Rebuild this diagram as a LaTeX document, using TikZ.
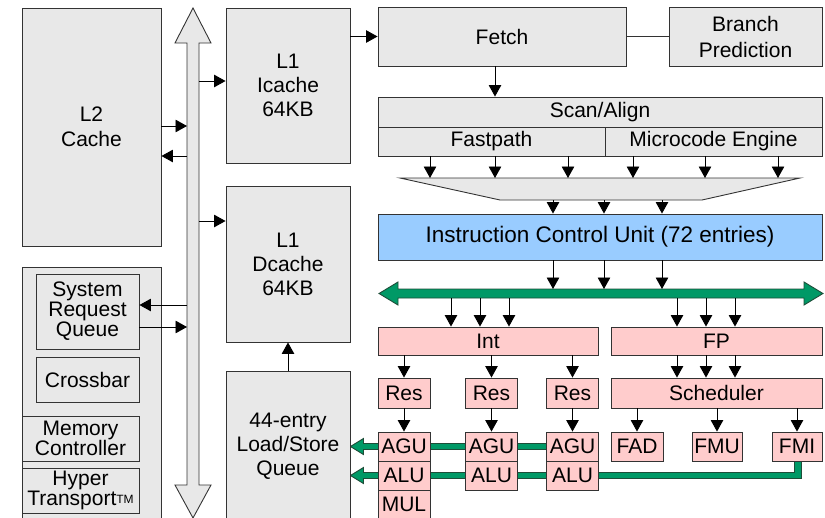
\documentclass[tikz,border=0pt]{standalone}
\usepackage{fontspec}
\setmainfont{Liberation Sans}
\usetikzlibrary{arrows.meta,backgrounds}

\definecolor{boxgray}{HTML}{E8E8E8}
\definecolor{boxpink}{HTML}{FFCCCC}
\definecolor{boxblue}{HTML}{99CCFF}
\definecolor{busgreen}{HTML}{009966}
\definecolor{busedge}{HTML}{1E4D38}
\definecolor{edge}{HTML}{333333}

\tikzset{
  blk/.style={draw=edge, fill=boxgray, line width=0.9pt, inner sep=0pt, align=center,
    font=\fontsize{21}{24}\selectfont},
  tight/.style={font=\fontsize{21}{18.5}\selectfont},
  pk/.style={blk, fill=boxpink},
  sz/.style 2 args={minimum width=#1, minimum height=#2},
  arr/.style={line width=0.9pt, -{Triangle[length=11.5pt,width=12.5pt]}},
  gbus/.style={fill=busgreen, draw=busedge, line width=0.9pt},
}

\begin{document}
\begin{tikzpicture}[x=1pt,y=-1pt]
\useasboundingbox (0,0) rectangle (825,517);
\clip (0,0) rectangle (825,517);

% system bus
\draw[fill=boxgray, draw=edge, line width=0.9pt]
  (193,8) -- (211,43) -- (199,43) -- (199,485) -- (211,485) -- (193,518) -- (175,485)
  -- (187,485) -- (187,43) -- (175,43) -- cycle;
\coordinate (busl) at (187,0);
\coordinate (busr) at (199,0);

% memory side
\node[blk, sz={139}{238}, font=\fontsize{21}{25}\selectfont] (l2) at (91.5,127) {L2\\Cache};
\node[blk, sz={139}{262}] (nb) at (91.5,398) {};
\node[blk, tight, sz={103}{75}] (srq) at (87.5,311.5) {System\\Request\\Queue};
\node[blk, sz={103}{45}] (xbar) at (87.5,379.5) {Crossbar};
\node[blk, tight, sz={117}{45}] (memc) at (80.5,438.5) {Memory\\Controller};
\node[blk, tight, sz={117}{45}] (ht) at (80.5,490.5)
  {Hyper\\Transport\raisebox{1.5pt}{\fontsize{12}{12}\selectfont TM}};

\node[blk, sz={124}{155}] (icache) at (288,85.5) {L1\\Icache\\64KB};
\node[blk, sz={124}{156}] (dcache) at (288,264) {L1\\Dcache\\64KB};
\node[blk, sz={124}{150}] (lsq) at (288,446) {44-entry\\Load/Store\\Queue};

% front end
\node[blk, sz={248}{59}] (fetch) at (502,36.5) {Fetch};
\node[blk, sz={153}{59}, font=\fontsize{21}{26}\selectfont] (bp) at (745.5,36.5) {Branch\\Prediction};
\node[blk, sz={444}{30}] (scan) at (600,112) {Scan/Align};
\node[blk, sz={227}{29}] (fast) at (491.5,141.5) {Fastpath};
\node[blk, sz={217}{29}] (micro) at (713.5,141.5) {Microcode Engine};
\draw[fill=boxgray, draw=edge, line width=0.9pt]
  (400,178) -- (800,178) -- (702,200) -- (500,200) -- cycle;
\coordinate (dectop) at (600,178);
\coordinate (decbot) at (600,200);
\node[blk, fill=boxblue, sz={444}{46}, font=\fontsize{22.5}{24}\selectfont] (icu) at (600,237)
  {Instruction Control Unit (72 entries)};

% result bus
\draw[gbus] (379,293.5) -- (398,282) -- (398,289) -- (804,289) -- (804,282) -- (823,293.5)
  -- (804,305) -- (804,298) -- (398,298) -- (398,305) -- cycle;
\coordinate (gbtop) at (600,289);
\coordinate (gbbot) at (600,298);

% execution units
\node[pk, sz={220}{28}] (int) at (488,341) {Int};
\node[pk, sz={211}{28}] (fp) at (716.5,341) {FP};
\node[pk, sz={211}{30}] (sched) at (716.5,393) {Scheduler};
\foreach \n/\x in {1/404,2/491.5,3/572.5} {
  \node[pk, sz={52}{30}] (res\n) at (\x,393) {Res};
  \node[pk, sz={52}{29}] (agu\n) at (\x,446.5) {AGU};
  \node[pk, sz={52}{29}] (alu\n) at (\x,475.5) {ALU};
}
\node[pk, sz={52}{29}] (mul) at (404,504.5) {MUL};
\node[pk, sz={52}{29}] (fad) at (637,446.5) {FAD};
\node[pk, sz={50}{29}] (fmu) at (717,446.5) {FMU};
\node[pk, sz={50}{29}] (fmi) at (797,446.5) {FMI};

% green result paths back to the LSQ
\begin{pgfonlayer}{background}
  \draw[gbus] (lsq.east |- agu1) -- ++(13,-8) -- ++(0,5) -- ++(210,0) -- ++(0,6)
    -- ++(-210,0) -- ++(0,5) -- cycle;
  \draw[gbus] (lsq.east |- alu1) -- ++(13,-8) -- ++(0,5) -- ++(431,0) -- ++(0,-15)
    -- ++(7,0) -- ++(0,21) -- ++(-438,0) -- ++(0,5) -- cycle;
\end{pgfonlayer}

% connectors
\draw[arr] (fetch.west -| icache.east) -- (fetch.west);
\draw[line width=0.9pt, edge] (fetch) -- (bp);
\draw[arr] (fetch.south -| 495,0) -- (scan.north -| 495,0);
\foreach \x in {430,495,568} \draw[arr] (fast.south -| \x,0) -- (dectop -| \x,0);
\foreach \x in {633,705,778} \draw[arr] (micro.south -| \x,0) -- (dectop -| \x,0);
\foreach \x in {553,604,662} {
  \draw[arr] (decbot -| \x,0) -- (icu.north -| \x,0);
  \draw[arr] (icu.south -| \x,0) -- (gbtop -| \x,0);
}
\foreach \x in {451,480,509} \draw[arr] (gbbot -| \x,0) -- (int.north -| \x,0);
\foreach \x in {677,706,735} {
  \draw[arr] (gbbot -| \x,0) -- (fp.north -| \x,0);
  \draw[arr] (fp.south -| \x,0) -- (sched.north -| \x,0);
}
\foreach \n in {1,2,3} {
  \draw[arr] (int.south -| res\n) -- (res\n);
  \draw[arr] (res\n) -- (agu\n);
}
\foreach \n in {fad,fmu,fmi} \draw[arr] (sched.south -| \n) -- (\n);
\draw[arr] (lsq) -- (dcache);

% system bus taps
\draw[arr] (busr |- 0,81) -- (icache.west |- 0,81);
\draw[arr] (busr |- 0,221) -- (dcache.west |- 0,221);
\draw[arr] (l2.east |- 0,126) -- (busl |- 0,126);
\draw[arr] (busl |- 0,156) -- (l2.east |- 0,156);
\draw[arr] (busl |- 0,305) -- (srq.east |- 0,305);
\draw[arr] (srq.east |- 0,327) -- (busl |- 0,327);
\end{tikzpicture}
\end{document}
